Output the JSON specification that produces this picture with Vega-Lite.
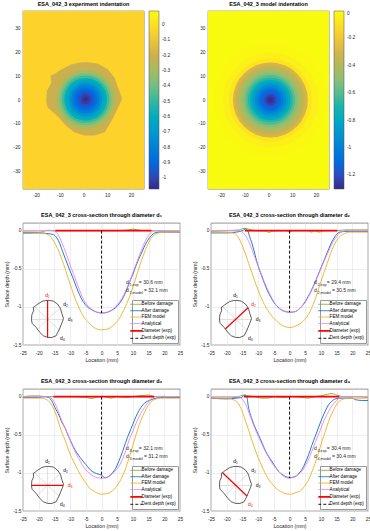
{
"$schema":"https://vega.github.io/schema/vega-lite/v6.json",
"padding":{"left":2,"top":1,"right":0,"bottom":0},
"background":"white",
"config":{
 "font":"Liberation Sans",
 "view":{"stroke":"#4d4d4d","strokeWidth":0.6},
 "title":{"fontSize":5.5,"fontWeight":"bold","color":"#000","offset":4},
 "axis":{"labelFontSize":4.8,"titleFontSize":5.2,"titleFontWeight":"normal","labelColor":"#262626","titleColor":"#262626","ticks":false,"domain":false,"labelPadding":2,"titlePadding":2,"gridColor":"#e3e3e3","gridWidth":0.6,"labelOverlap":false,"labelBound":false,"labelFlush":false,"tickCount":50}
},
"datasets":{
 "blob":[{"x":1.8,"y":15.9},{"x":6.1,"y":15.3},{"x":10.3,"y":12.8},{"x":13.2,"y":9.3},{"x":14.6,"y":5.1},{"x":16.2,"y":1.0},{"x":15.9,"y":-0.4},{"x":13.9,"y":-4.6},{"x":11.8,"y":-8.8},{"x":8.9,"y":-13.6},{"x":4.7,"y":-15},{"x":0.4,"y":-15},{"x":-3.9,"y":-13.6},{"x":-7.4,"y":-10.8},{"x":-11,"y":-6.7},{"x":-15.1,"y":-3.2},{"x":-15.7,"y":-0.4},{"x":-15.4,"y":3.8},{"x":-13.6,"y":7.2},{"x":-13.9,"y":10.2},{"x":-12.4,"y":10.8},{"x":-10.3,"y":12.3},{"x":-5.3,"y":15.0},{"x":-1.6,"y":15.8}],
 "hmE":[{"x":0.9,"y":0.3,"r":12.5,"v":-0.26},{"x":0.9,"y":0.3,"r":12,"v":-0.3},{"x":0.9,"y":0.3,"r":11,"v":-0.39},{"x":0.9,"y":0.3,"r":10,"v":-0.48},{"x":0.9,"y":0.3,"r":9,"v":-0.56},{"x":0.9,"y":0.3,"r":8,"v":-0.65},{"x":0.9,"y":0.3,"r":7,"v":-0.73},{"x":0.9,"y":0.3,"r":6,"v":-0.8},{"x":0.9,"y":0.3,"r":5,"v":-0.87},{"x":0.9,"y":0.3,"r":4,"v":-0.93},{"x":0.9,"y":0.3,"r":3,"v":-0.98},{"x":0.9,"y":0.3,"r":2,"v":-1.02},{"x":0.9,"y":0.3,"r":1,"v":-1.05},{"x":0.9,"y":0.3,"r":0.5,"v":-1.06}],
 "hmM":[{"x":0.8,"y":0,"r":24,"v":-0.015},{"x":0.8,"y":0,"r":20,"v":-0.04},{"x":0.8,"y":0,"r":17.5,"v":-0.08},{"x":0.8,"y":0,"r":15.8,"v":-0.3},{"x":0.8,"y":0,"r":14.5,"v":-0.34},{"x":0.8,"y":0,"r":13.5,"v":-0.39},{"x":0.8,"y":0,"r":12.5,"v":-0.45},{"x":0.8,"y":0,"r":11.5,"v":-0.52},{"x":0.8,"y":0,"r":10.5,"v":-0.6},{"x":0.8,"y":0,"r":9.5,"v":-0.68},{"x":0.8,"y":0,"r":8.5,"v":-0.77},{"x":0.8,"y":0,"r":7.5,"v":-0.86},{"x":0.8,"y":0,"r":6.5,"v":-0.94},{"x":0.8,"y":0,"r":5.5,"v":-1.02},{"x":0.8,"y":0,"r":4.5,"v":-1.09},{"x":0.8,"y":0,"r":3.5,"v":-1.16},{"x":0.8,"y":0,"r":2.5,"v":-1.22},{"x":0.8,"y":0,"r":1.5,"v":-1.27},{"x":0.8,"y":0,"r":0.7,"v":-1.295}],
 "dia":[{"d":"d1","x":0.4,"y":15.8},{"d":"d1","x":0.4,"y":-15},{"d":"d2","x":-9.9,"y":-8.0},{"d":"d2","x":12.85,"y":9.7},{"d":"d3","x":-15.7,"y":0},{"d":"d3","x":16.0,"y":0},{"d":"d4","x":-12.6,"y":10.6},{"d":"d4","x":11.8,"y":-8.8}],
 "dlab":[{"d":"d1","x":0.2,"y":20.4,"t":"d₁"},{"d":"d2","x":18.5,"y":12.9,"t":"d₂"},{"d":"d3","x":22.9,"y":0.5,"t":"d₃"},{"d":"d4","x":15.2,"y":-15.5,"t":"d₄"}],
 "ann":[
  {"p":1,"k":"m","x":7.8,"y":-0.68,"t":"d"},{"p":1,"k":"s","x":8.9,"y":-0.715,"t":"1,exp"},{"p":1,"k":"m","x":11.9,"y":-0.68,"t":"= 30.6 mm"},{"p":1,"k":"m","x":7.8,"y":-0.78,"t":"d"},{"p":1,"k":"s","x":8.9,"y":-0.815,"t":"1,model"},{"p":1,"k":"m","x":13.5,"y":-0.78,"t":"= 32.1 mm"},
  {"p":2,"k":"m","x":7.8,"y":-0.68,"t":"d"},{"p":2,"k":"s","x":8.9,"y":-0.715,"t":"2,exp"},{"p":2,"k":"m","x":11.9,"y":-0.68,"t":"= 29.4 mm"},{"p":2,"k":"m","x":7.8,"y":-0.78,"t":"d"},{"p":2,"k":"s","x":8.9,"y":-0.815,"t":"2,model"},{"p":2,"k":"m","x":13.5,"y":-0.78,"t":"= 30.5 mm"},
  {"p":3,"k":"m","x":7.8,"y":-0.68,"t":"d"},{"p":3,"k":"s","x":8.9,"y":-0.715,"t":"3,exp"},{"p":3,"k":"m","x":11.9,"y":-0.68,"t":"= 32.1 mm"},{"p":3,"k":"m","x":7.8,"y":-0.78,"t":"d"},{"p":3,"k":"s","x":8.9,"y":-0.815,"t":"3,model"},{"p":3,"k":"m","x":13.5,"y":-0.78,"t":"= 31.2 mm"},
  {"p":4,"k":"m","x":7.8,"y":-0.68,"t":"d"},{"p":4,"k":"s","x":8.9,"y":-0.715,"t":"4,exp"},{"p":4,"k":"m","x":11.9,"y":-0.68,"t":"= 30.4 mm"},{"p":4,"k":"m","x":7.8,"y":-0.78,"t":"d"},{"p":4,"k":"s","x":8.9,"y":-0.815,"t":"4,model"},{"p":4,"k":"m","x":13.5,"y":-0.78,"t":"= 30.4 mm"}
 ],
 "c1":[
  {"s":"B","x":-25,"y":-0.03},{"s":"B","x":-20,"y":-0.025},{"s":"B","x":-17,"y":0.005},{"s":"B","x":-15,"y":0},{"s":"B","x":-10,"y":0},{"s":"B","x":-5,"y":0},{"s":"B","x":0,"y":0},{"s":"B","x":5,"y":0},{"s":"B","x":8,"y":0.005},{"s":"B","x":10,"y":0.02},{"s":"B","x":12,"y":0.005},{"s":"B","x":15,"y":0},{"s":"B","x":20,"y":-0.005},{"s":"B","x":25,"y":-0.01},
  {"s":"A","x":-25,"y":-0.03},{"s":"A","x":-20,"y":-0.03},{"s":"A","x":-17,"y":-0.04},{"s":"A","x":-15.5,"y":-0.05},{"s":"A","x":-14.5,"y":-0.08},{"s":"A","x":-13.5,"y":-0.15},{"s":"A","x":-12.5,"y":-0.26},{"s":"A","x":-11.5,"y":-0.37},{"s":"A","x":-10.3,"y":-0.5},{"s":"A","x":-9,"y":-0.63},{"s":"A","x":-8,"y":-0.74},{"s":"A","x":-7,"y":-0.84},{"s":"A","x":-6,"y":-0.92},{"s":"A","x":-4.5,"y":-1.0},{"s":"A","x":-3,"y":-1.04},{"s":"A","x":-1.5,"y":-1.07},{"s":"A","x":0,"y":-1.08},{"s":"A","x":1.5,"y":-1.075},{"s":"A","x":3,"y":-1.05},{"s":"A","x":4.5,"y":-1.01},{"s":"A","x":6,"y":-0.94},{"s":"A","x":7,"y":-0.87},{"s":"A","x":8,"y":-0.78},{"s":"A","x":9,"y":-0.67},{"s":"A","x":10,"y":-0.57},{"s":"A","x":11,"y":-0.46},{"s":"A","x":12,"y":-0.36},{"s":"A","x":13,"y":-0.27},{"s":"A","x":14,"y":-0.18},{"s":"A","x":15,"y":-0.11},{"s":"A","x":16,"y":-0.06},{"s":"A","x":17,"y":-0.03},{"s":"A","x":18.5,"y":-0.02},{"s":"A","x":25,"y":-0.02},
  {"s":"F","x":-25,"y":-0.015},{"s":"F","x":-20,"y":-0.02},{"s":"F","x":-18.5,"y":-0.03},{"s":"F","x":-17.5,"y":-0.045},{"s":"F","x":-16.5,"y":-0.07},{"s":"F","x":-15.5,"y":-0.12},{"s":"F","x":-14.5,"y":-0.19},{"s":"F","x":-13.5,"y":-0.28},{"s":"F","x":-12.5,"y":-0.39},{"s":"F","x":-11.5,"y":-0.51},{"s":"F","x":-10.5,"y":-0.64},{"s":"F","x":-9.5,"y":-0.76},{"s":"F","x":-8.5,"y":-0.88},{"s":"F","x":-7.5,"y":-0.98},{"s":"F","x":-6.5,"y":-1.07},{"s":"F","x":-5.5,"y":-1.14},{"s":"F","x":-4,"y":-1.21},{"s":"F","x":-2,"y":-1.28},{"s":"F","x":0,"y":-1.3},{"s":"F","x":2,"y":-1.29},{"s":"F","x":3.5,"y":-1.25},{"s":"F","x":5,"y":-1.19},{"s":"F","x":6,"y":-1.13},{"s":"F","x":7,"y":-1.05},{"s":"F","x":8,"y":-0.96},{"s":"F","x":9,"y":-0.86},{"s":"F","x":10,"y":-0.74},{"s":"F","x":11,"y":-0.61},{"s":"F","x":12,"y":-0.48},{"s":"F","x":13,"y":-0.36},{"s":"F","x":14,"y":-0.25},{"s":"F","x":15,"y":-0.16},{"s":"F","x":16,"y":-0.09},{"s":"F","x":17,"y":-0.05},{"s":"F","x":18.5,"y":-0.03},{"s":"F","x":20,"y":-0.02},{"s":"F","x":25,"y":-0.015},
  {"s":"N","x":-25,"y":0},{"s":"N","x":-16,"y":0},{"s":"N","x":-15,"y":-0.01},{"s":"N","x":-14,"y":-0.04},{"s":"N","x":-13,"y":-0.12},{"s":"N","x":-12,"y":-0.22},{"s":"N","x":-11,"y":-0.33},{"s":"N","x":-10,"y":-0.45},{"s":"N","x":-9,"y":-0.56},{"s":"N","x":-8,"y":-0.67},{"s":"N","x":-7,"y":-0.78},{"s":"N","x":-6,"y":-0.88},{"s":"N","x":-5,"y":-0.95},{"s":"N","x":-4,"y":-1.0},{"s":"N","x":-2.5,"y":-1.05},{"s":"N","x":0,"y":-1.08},{"s":"N","x":2.5,"y":-1.06},{"s":"N","x":4,"y":-1.02},{"s":"N","x":5,"y":-0.97},{"s":"N","x":6,"y":-0.92},{"s":"N","x":7,"y":-0.85},{"s":"N","x":8,"y":-0.76},{"s":"N","x":9,"y":-0.66},{"s":"N","x":10,"y":-0.55},{"s":"N","x":11,"y":-0.44},{"s":"N","x":12,"y":-0.33},{"s":"N","x":13,"y":-0.23},{"s":"N","x":14,"y":-0.13},{"s":"N","x":15,"y":-0.06},{"s":"N","x":16,"y":-0.02},{"s":"N","x":17,"y":0},{"s":"N","x":25,"y":0},
  {"s":"D","x":-14.7,"y":0},{"s":"D","x":15.9,"y":0},
  {"s":"K","x":0,"y":0},{"s":"K","x":0,"y":-1.08}
 ],
 "c2":[
  {"s":"B","x":-25,"y":-0.01},{"s":"B","x":-20,"y":0},{"s":"B","x":-16,"y":0.01},{"s":"B","x":-14.5,"y":0.03},{"s":"B","x":-13,"y":0.02},{"s":"B","x":-11,"y":0},{"s":"B","x":-7.5,"y":-0.005},{"s":"B","x":-6.5,"y":-0.025},{"s":"B","x":-5.5,"y":-0.005},{"s":"B","x":-1,"y":0},{"s":"B","x":0,"y":-0.02},{"s":"B","x":1,"y":0},{"s":"B","x":6,"y":0},{"s":"B","x":7,"y":-0.02},{"s":"B","x":8,"y":0},{"s":"B","x":9.5,"y":-0.02},{"s":"B","x":11,"y":0},{"s":"B","x":15,"y":0},{"s":"B","x":18,"y":0.01},{"s":"B","x":25,"y":0.01},
  {"s":"A","x":-25,"y":-0.03},{"s":"A","x":-20,"y":-0.03},{"s":"A","x":-17,"y":-0.02},{"s":"A","x":-15,"y":0},{"s":"A","x":-14,"y":0.02},{"s":"A","x":-13.3,"y":0},{"s":"A","x":-12.7,"y":-0.08},{"s":"A","x":-12,"y":-0.16},{"s":"A","x":-11.2,"y":-0.28},{"s":"A","x":-10.1,"y":-0.45},{"s":"A","x":-9,"y":-0.58},{"s":"A","x":-8,"y":-0.69},{"s":"A","x":-7,"y":-0.79},{"s":"A","x":-6,"y":-0.87},{"s":"A","x":-5,"y":-0.94},{"s":"A","x":-4,"y":-0.99},{"s":"A","x":-2.5,"y":-1.04},{"s":"A","x":-1,"y":-1.065},{"s":"A","x":0.5,"y":-1.07},{"s":"A","x":2,"y":-1.06},{"s":"A","x":3,"y":-1.03},{"s":"A","x":4,"y":-0.99},{"s":"A","x":5,"y":-0.93},{"s":"A","x":6,"y":-0.86},{"s":"A","x":7,"y":-0.78},{"s":"A","x":8,"y":-0.69},{"s":"A","x":9,"y":-0.59},{"s":"A","x":10,"y":-0.49},{"s":"A","x":11,"y":-0.39},{"s":"A","x":12,"y":-0.29},{"s":"A","x":13,"y":-0.19},{"s":"A","x":14,"y":-0.11},{"s":"A","x":15,"y":-0.05},{"s":"A","x":16,"y":-0.02},{"s":"A","x":18,"y":-0.01},{"s":"A","x":25,"y":-0.01},
  {"s":"F","x":-25,"y":-0.02},{"s":"F","x":-21,"y":-0.02},{"s":"F","x":-18,"y":-0.03},{"s":"F","x":-17,"y":-0.05},{"s":"F","x":-16,"y":-0.11},{"s":"F","x":-15,"y":-0.2},{"s":"F","x":-14,"y":-0.31},{"s":"F","x":-13,"y":-0.43},{"s":"F","x":-12,"y":-0.55},{"s":"F","x":-11,"y":-0.67},{"s":"F","x":-10,"y":-0.78},{"s":"F","x":-9,"y":-0.88},{"s":"F","x":-8,"y":-0.97},{"s":"F","x":-7,"y":-1.04},{"s":"F","x":-6,"y":-1.1},{"s":"F","x":-5,"y":-1.15},{"s":"F","x":-4,"y":-1.19},{"s":"F","x":-2,"y":-1.25},{"s":"F","x":0,"y":-1.27},{"s":"F","x":2,"y":-1.25},{"s":"F","x":4,"y":-1.2},{"s":"F","x":5,"y":-1.16},{"s":"F","x":6,"y":-1.1},{"s":"F","x":7,"y":-1.02},{"s":"F","x":8,"y":-0.92},{"s":"F","x":9,"y":-0.8},{"s":"F","x":10,"y":-0.67},{"s":"F","x":11,"y":-0.55},{"s":"F","x":12,"y":-0.43},{"s":"F","x":13,"y":-0.31},{"s":"F","x":14,"y":-0.21},{"s":"F","x":15,"y":-0.13},{"s":"F","x":16,"y":-0.08},{"s":"F","x":17,"y":-0.05},{"s":"F","x":19,"y":-0.02},{"s":"F","x":25,"y":-0.02},
  {"s":"N","x":-25,"y":0},{"s":"N","x":-16,"y":0},{"s":"N","x":-15.4,"y":-0.01},{"s":"N","x":-14.5,"y":-0.04},{"s":"N","x":-13.5,"y":-0.1},{"s":"N","x":-12.5,"y":-0.19},{"s":"N","x":-11.5,"y":-0.3},{"s":"N","x":-10.5,"y":-0.41},{"s":"N","x":-9.5,"y":-0.51},{"s":"N","x":-8.5,"y":-0.62},{"s":"N","x":-7.5,"y":-0.72},{"s":"N","x":-6.5,"y":-0.81},{"s":"N","x":-5,"y":-0.93},{"s":"N","x":-4,"y":-0.99},{"s":"N","x":-2.5,"y":-1.045},{"s":"N","x":0,"y":-1.07},{"s":"N","x":2,"y":-1.06},{"s":"N","x":3,"y":-1.03},{"s":"N","x":4,"y":-0.99},{"s":"N","x":5,"y":-0.94},{"s":"N","x":6,"y":-0.87},{"s":"N","x":7,"y":-0.79},{"s":"N","x":8,"y":-0.7},{"s":"N","x":9,"y":-0.6},{"s":"N","x":10,"y":-0.5},{"s":"N","x":11,"y":-0.4},{"s":"N","x":12,"y":-0.31},{"s":"N","x":13,"y":-0.22},{"s":"N","x":14,"y":-0.14},{"s":"N","x":15,"y":-0.08},{"s":"N","x":16,"y":-0.03},{"s":"N","x":17,"y":-0.01},{"s":"N","x":18,"y":0},{"s":"N","x":25,"y":0},
  {"s":"D","x":-14.2,"y":0},{"s":"D","x":15.2,"y":0},
  {"s":"K","x":0,"y":0},{"s":"K","x":0,"y":-1.07}
 ],
 "c3":[
  {"s":"B","x":-25,"y":0},{"s":"B","x":-22,"y":0.01},{"s":"B","x":-20,"y":0.01},{"s":"B","x":-18,"y":0},{"s":"B","x":-10,"y":0},{"s":"B","x":-5,"y":-0.01},{"s":"B","x":-3,"y":-0.025},{"s":"B","x":-1,"y":0},{"s":"B","x":1,"y":0},{"s":"B","x":3,"y":-0.02},{"s":"B","x":5,"y":0},{"s":"B","x":8,"y":-0.01},{"s":"B","x":10,"y":0},{"s":"B","x":13,"y":0.015},{"s":"B","x":15,"y":0.02},{"s":"B","x":17,"y":0},{"s":"B","x":20,"y":0.005},{"s":"B","x":22,"y":-0.01},{"s":"B","x":25,"y":0},
  {"s":"A","x":-25,"y":-0.01},{"s":"A","x":-20,"y":-0.01},{"s":"A","x":-18,"y":0},{"s":"A","x":-16.5,"y":-0.02},{"s":"A","x":-15.9,"y":-0.05},{"s":"A","x":-15.2,"y":-0.11},{"s":"A","x":-14.5,"y":-0.17},{"s":"A","x":-13.8,"y":-0.22},{"s":"A","x":-12.7,"y":-0.33},{"s":"A","x":-11.5,"y":-0.42},{"s":"A","x":-10.5,"y":-0.52},{"s":"A","x":-9.5,"y":-0.61},{"s":"A","x":-8.4,"y":-0.7},{"s":"A","x":-7.3,"y":-0.77},{"s":"A","x":-6.2,"y":-0.83},{"s":"A","x":-5,"y":-0.89},{"s":"A","x":-4,"y":-0.94},{"s":"A","x":-3,"y":-0.98},{"s":"A","x":-1.5,"y":-1.01},{"s":"A","x":0,"y":-1.03},{"s":"A","x":1.2,"y":-1.065},{"s":"A","x":2.2,"y":-1.05},{"s":"A","x":3.5,"y":-1.0},{"s":"A","x":4.5,"y":-0.94},{"s":"A","x":5.5,"y":-0.85},{"s":"A","x":6.7,"y":-0.72},{"s":"A","x":7.7,"y":-0.6},{"s":"A","x":8.8,"y":-0.48},{"s":"A","x":10,"y":-0.36},{"s":"A","x":11,"y":-0.26},{"s":"A","x":12,"y":-0.18},{"s":"A","x":13.1,"y":-0.11},{"s":"A","x":14.2,"y":-0.07},{"s":"A","x":15.3,"y":-0.05},{"s":"A","x":17.4,"y":-0.02},{"s":"A","x":20,"y":-0.01},{"s":"A","x":25,"y":-0.01},
  {"s":"F","x":-25,"y":-0.02},{"s":"F","x":-19,"y":-0.02},{"s":"F","x":-18,"y":-0.03},{"s":"F","x":-17,"y":-0.05},{"s":"F","x":-16,"y":-0.1},{"s":"F","x":-14.8,"y":-0.2},{"s":"F","x":-13.8,"y":-0.32},{"s":"F","x":-12.7,"y":-0.46},{"s":"F","x":-11.5,"y":-0.58},{"s":"F","x":-10.5,"y":-0.7},{"s":"F","x":-9.5,"y":-0.8},{"s":"F","x":-8.4,"y":-0.89},{"s":"F","x":-7.3,"y":-0.98},{"s":"F","x":-6.2,"y":-1.06},{"s":"F","x":-5,"y":-1.13},{"s":"F","x":-4,"y":-1.19},{"s":"F","x":-2,"y":-1.25},{"s":"F","x":0,"y":-1.28},{"s":"F","x":2,"y":-1.27},{"s":"F","x":3.4,"y":-1.24},{"s":"F","x":4.5,"y":-1.19},{"s":"F","x":5.6,"y":-1.13},{"s":"F","x":6.7,"y":-1.04},{"s":"F","x":7.7,"y":-0.94},{"s":"F","x":8.8,"y":-0.8},{"s":"F","x":9.9,"y":-0.65},{"s":"F","x":11,"y":-0.5},{"s":"F","x":12,"y":-0.37},{"s":"F","x":13.1,"y":-0.26},{"s":"F","x":14.2,"y":-0.16},{"s":"F","x":15.3,"y":-0.09},{"s":"F","x":16.3,"y":-0.05},{"s":"F","x":17.5,"y":-0.03},{"s":"F","x":18.5,"y":-0.02},{"s":"F","x":25,"y":-0.02},
  {"s":"N","x":-25,"y":0},{"s":"N","x":-17,"y":0},{"s":"N","x":-16.5,"y":-0.01},{"s":"N","x":-15.5,"y":-0.04},{"s":"N","x":-14.8,"y":-0.09},{"s":"N","x":-13.7,"y":-0.2},{"s":"N","x":-12.7,"y":-0.31},{"s":"N","x":-11.5,"y":-0.42},{"s":"N","x":-10.5,"y":-0.52},{"s":"N","x":-9.5,"y":-0.62},{"s":"N","x":-8.4,"y":-0.72},{"s":"N","x":-7.3,"y":-0.81},{"s":"N","x":-6.2,"y":-0.89},{"s":"N","x":-5.2,"y":-0.95},{"s":"N","x":-4,"y":-1.0},{"s":"N","x":-2.5,"y":-1.045},{"s":"N","x":0,"y":-1.07},{"s":"N","x":2,"y":-1.055},{"s":"N","x":3,"y":-1.03},{"s":"N","x":4,"y":-0.99},{"s":"N","x":5.6,"y":-0.91},{"s":"N","x":6.7,"y":-0.82},{"s":"N","x":7.7,"y":-0.71},{"s":"N","x":8.8,"y":-0.57},{"s":"N","x":10,"y":-0.45},{"s":"N","x":11,"y":-0.35},{"s":"N","x":12,"y":-0.26},{"s":"N","x":13.1,"y":-0.18},{"s":"N","x":14.2,"y":-0.11},{"s":"N","x":15.3,"y":-0.05},{"s":"N","x":16.2,"y":-0.02},{"s":"N","x":17,"y":0},{"s":"N","x":25,"y":0},
  {"s":"D","x":-15.3,"y":0},{"s":"D","x":16.8,"y":0},
  {"s":"K","x":0,"y":0},{"s":"K","x":0,"y":-1.07}
 ],
 "c4":[
  {"s":"B","x":-25,"y":-0.02},{"s":"B","x":-20,"y":-0.02},{"s":"B","x":-17,"y":-0.01},{"s":"B","x":-14.5,"y":0.02},{"s":"B","x":-13,"y":0.01},{"s":"B","x":-11,"y":0},{"s":"B","x":-9,"y":-0.02},{"s":"B","x":-7,"y":-0.02},{"s":"B","x":-5,"y":0},{"s":"B","x":-2,"y":-0.01},{"s":"B","x":1,"y":0},{"s":"B","x":4,"y":-0.01},{"s":"B","x":6,"y":-0.02},{"s":"B","x":8,"y":0},{"s":"B","x":10,"y":0.01},{"s":"B","x":12,"y":0.03},{"s":"B","x":13.5,"y":0.04},{"s":"B","x":15,"y":0.02},{"s":"B","x":17,"y":0},{"s":"B","x":20,"y":0},{"s":"B","x":25,"y":-0.01},
  {"s":"A","x":-25,"y":-0.02},{"s":"A","x":-20,"y":-0.03},{"s":"A","x":-17,"y":-0.02},{"s":"A","x":-15.2,"y":-0.01},{"s":"A","x":-14.3,"y":0.02},{"s":"A","x":-13.6,"y":0},{"s":"A","x":-13.1,"y":-0.13},{"s":"A","x":-12,"y":-0.29},{"s":"A","x":-11,"y":-0.4},{"s":"A","x":-9.9,"y":-0.5},{"s":"A","x":-8.8,"y":-0.6},{"s":"A","x":-7.8,"y":-0.7},{"s":"A","x":-6.7,"y":-0.78},{"s":"A","x":-5.6,"y":-0.85},{"s":"A","x":-4.5,"y":-0.92},{"s":"A","x":-3.5,"y":-0.98},{"s":"A","x":-2,"y":-1.03},{"s":"A","x":0,"y":-1.06},{"s":"A","x":1.8,"y":-1.05},{"s":"A","x":2.9,"y":-1.01},{"s":"A","x":3.9,"y":-0.96},{"s":"A","x":5,"y":-0.87},{"s":"A","x":6.1,"y":-0.76},{"s":"A","x":7.1,"y":-0.64},{"s":"A","x":8.2,"y":-0.52},{"s":"A","x":9.3,"y":-0.4},{"s":"A","x":10.3,"y":-0.29},{"s":"A","x":11.4,"y":-0.19},{"s":"A","x":12.4,"y":-0.11},{"s":"A","x":13.5,"y":-0.06},{"s":"A","x":14.6,"y":-0.03},{"s":"A","x":17,"y":-0.02},{"s":"A","x":20,"y":-0.02},{"s":"A","x":21,"y":-0.04},{"s":"A","x":23,"y":-0.05},{"s":"A","x":25,"y":-0.05},
  {"s":"F","x":-25,"y":-0.02},{"s":"F","x":-19.5,"y":-0.02},{"s":"F","x":-18,"y":-0.04},{"s":"F","x":-17,"y":-0.06},{"s":"F","x":-16.3,"y":-0.09},{"s":"F","x":-15.2,"y":-0.18},{"s":"F","x":-14.1,"y":-0.31},{"s":"F","x":-13,"y":-0.44},{"s":"F","x":-12,"y":-0.57},{"s":"F","x":-11,"y":-0.69},{"s":"F","x":-9.9,"y":-0.81},{"s":"F","x":-8.8,"y":-0.91},{"s":"F","x":-7.8,"y":-1.0},{"s":"F","x":-6.7,"y":-1.08},{"s":"F","x":-5.6,"y":-1.14},{"s":"F","x":-4.6,"y":-1.19},{"s":"F","x":-3,"y":-1.24},{"s":"F","x":0,"y":-1.28},{"s":"F","x":2,"y":-1.26},{"s":"F","x":3.9,"y":-1.22},{"s":"F","x":5,"y":-1.16},{"s":"F","x":6.1,"y":-1.09},{"s":"F","x":7.1,"y":-0.99},{"s":"F","x":8.2,"y":-0.87},{"s":"F","x":9.3,"y":-0.73},{"s":"F","x":10.3,"y":-0.59},{"s":"F","x":11.4,"y":-0.46},{"s":"F","x":12.4,"y":-0.33},{"s":"F","x":13.5,"y":-0.22},{"s":"F","x":14.6,"y":-0.13},{"s":"F","x":15.6,"y":-0.07},{"s":"F","x":16.7,"y":-0.04},{"s":"F","x":18.8,"y":-0.02},{"s":"F","x":25,"y":-0.02},
  {"s":"N","x":-25,"y":0},{"s":"N","x":-16.3,"y":0},{"s":"N","x":-15.2,"y":-0.03},{"s":"N","x":-14.1,"y":-0.09},{"s":"N","x":-13,"y":-0.2},{"s":"N","x":-12,"y":-0.31},{"s":"N","x":-11,"y":-0.42},{"s":"N","x":-9.9,"y":-0.52},{"s":"N","x":-8.8,"y":-0.62},{"s":"N","x":-7.8,"y":-0.71},{"s":"N","x":-6.7,"y":-0.79},{"s":"N","x":-5.6,"y":-0.87},{"s":"N","x":-4.5,"y":-0.93},{"s":"N","x":-3.5,"y":-0.98},{"s":"N","x":-2,"y":-1.04},{"s":"N","x":0,"y":-1.07},{"s":"N","x":2,"y":-1.04},{"s":"N","x":3.9,"y":-0.98},{"s":"N","x":5,"y":-0.91},{"s":"N","x":6.1,"y":-0.82},{"s":"N","x":7.1,"y":-0.72},{"s":"N","x":8.2,"y":-0.6},{"s":"N","x":9.8,"y":-0.44},{"s":"N","x":11,"y":-0.31},{"s":"N","x":12.4,"y":-0.2},{"s":"N","x":13.5,"y":-0.12},{"s":"N","x":14.6,"y":-0.07},{"s":"N","x":15.5,"y":-0.03},{"s":"N","x":16.2,"y":-0.01},{"s":"N","x":17,"y":0},{"s":"N","x":25,"y":0},
  {"s":"D","x":-14.5,"y":0},{"s":"D","x":15.9,"y":0},
  {"s":"K","x":0,"y":0},{"s":"K","x":0,"y":-1.07}
 ]
},
"vconcat":[
 {"hconcat":[
  {"width":121,"height":178,"title":"ESA_042_3 experiment indentation",
   "layer":[
    {"data":{"values":[{"x":-25.5,"x2":25.5,"y":-37.5,"y2":37.5,"v":-0.04}]},
     "mark":{"type":"rect"},
     "encoding":{
      "x":{"field":"x","type":"quantitative","scale":{"domain":[-25.5,25.5],"nice":false,"zero":false},"axis":{"values":[-20,-10,0,10,20],"tickCount":50,"title":null,"labelExpr":"datum.value+''","labelPadding":3,"labelOverlap":false}},
      "x2":{"field":"x2"},
      "y":{"field":"y","type":"quantitative","scale":{"domain":[-37.5,37.5],"nice":false,"zero":false},"axis":{"values":[-30,-20,-10,0,10,20,30],"tickCount":50,"title":null,"labelExpr":"datum.value+''","labelPadding":3,"minExtent":20,"maxExtent":20,"labelOverlap":false}},
      "y2":{"field":"y2"},
      "color":{"field":"v","type":"quantitative","scale":{"domain":[-1.07,-0.925,-0.78,-0.635,-0.49,-0.345,-0.2,-0.055,0.09],"range":["#352a87","#0363e1","#1485d4","#06a7c6","#38b99e","#92bf73","#ccb04e","#fcce2e","#f9fb0e"]},
       "legend":{"title":null,"orient":"right","offset":5,"gradientLength":178,"gradientThickness":10,"values":[0,-0.1,-0.2,-0.3,-0.4,-0.5,-0.6,-0.7,-0.8,-0.9,-1],"labelFontSize":4.8,"labelColor":"#262626","labelExpr":"datum.value+''","gradientStrokeColor":"#4d4d4d","gradientStrokeWidth":0.5,"labelOffset":3,"labelOverlap":false,"direction":"vertical"}}
     }},
    {"data":{"name":"blob"},"mark":{"type":"line","filled":true,"interpolate":"linear-closed","strokeWidth":0},
     "encoding":{"x":{"field":"x","type":"quantitative"},"y":{"field":"y","type":"quantitative"},
      "color":{"datum":-0.2,"type":"quantitative","scale":{"domain":[-1.07,-0.925,-0.78,-0.635,-0.49,-0.345,-0.2,-0.055,0.09],"range":["#352a87","#0363e1","#1485d4","#06a7c6","#38b99e","#92bf73","#ccb04e","#fcce2e","#f9fb0e"]}},
      "order":{"value":null}}},
    {"data":{"name":"hmE"},"mark":{"type":"point","shape":"circle","filled":true,"opacity":1,"strokeWidth":0,"clip":true},
     "encoding":{"x":{"field":"x","type":"quantitative"},"y":{"field":"y","type":"quantitative"},
      "size":{"field":"r","type":"quantitative","scale":{"type":"pow","exponent":2,"domain":[0,25],"range":[0,14070]},"legend":null},
      "color":{"field":"v","type":"quantitative","scale":{"domain":[-1.07,-0.925,-0.78,-0.635,-0.49,-0.345,-0.2,-0.055,0.09],"range":["#352a87","#0363e1","#1485d4","#06a7c6","#38b99e","#92bf73","#ccb04e","#fcce2e","#f9fb0e"]}}}}
   ]},
  {"width":121,"height":178,"title":"ESA_042_3 model indentation",
   "layer":[
    {"data":{"values":[{"x":-25.5,"x2":25.5,"y":-37.5,"y2":37.5,"v":0}]},
     "mark":{"type":"rect"},
     "encoding":{
      "x":{"field":"x","type":"quantitative","scale":{"domain":[-25.5,25.5],"nice":false,"zero":false},"axis":{"values":[-20,-10,0,10,20],"tickCount":50,"title":null,"labelExpr":"datum.value+''","labelPadding":3,"labelOverlap":false}},
      "x2":{"field":"x2"},
      "y":{"field":"y","type":"quantitative","scale":{"domain":[-37.5,37.5],"nice":false,"zero":false},"axis":{"values":[-30,-20,-10,0,10,20,30],"tickCount":50,"title":null,"labelExpr":"datum.value+''","labelPadding":3,"minExtent":20,"maxExtent":20,"labelOverlap":false}},
      "y2":{"field":"y2"},
      "color":{"field":"v","type":"quantitative","scale":{"domain":[-1.3,-1.1375,-0.975,-0.8125,-0.65,-0.4875,-0.325,-0.1625,0],"range":["#352a87","#0363e1","#1485d4","#06a7c6","#38b99e","#92bf73","#ccb04e","#fcce2e","#f9fb0e"]},
       "legend":{"title":null,"orient":"right","offset":5,"gradientLength":178,"gradientThickness":10,"values":[0,-0.2,-0.4,-0.6,-0.8,-1,-1.2],"labelFontSize":4.8,"labelColor":"#262626","labelExpr":"datum.value+''","gradientStrokeColor":"#4d4d4d","gradientStrokeWidth":0.5,"labelOffset":3,"labelOverlap":false,"direction":"vertical"}}
     }},
    {"data":{"name":"hmM"},"mark":{"type":"point","shape":"circle","filled":true,"opacity":1,"strokeWidth":0,"clip":true},
     "encoding":{"x":{"field":"x","type":"quantitative"},"y":{"field":"y","type":"quantitative"},
      "size":{"field":"r","type":"quantitative","scale":{"type":"pow","exponent":2,"domain":[0,25],"range":[0,14070]},"legend":null},
      "color":{"field":"v","type":"quantitative","scale":{"domain":[-1.3,-1.1375,-0.975,-0.8125,-0.65,-0.4875,-0.325,-0.1625,0],"range":["#352a87","#0363e1","#1485d4","#06a7c6","#38b99e","#92bf73","#ccb04e","#fcce2e","#f9fb0e"]}}}}
   ]}
 ],"spacing":15,"resolve":{"scale":{"color":"independent","size":"independent"}}},
 {"hconcat":[
  {"width":157,"height":122,"title":{"text":"ESA_042_3 cross-section through diameter d₁","offset":5},
   "layer":[
    {"layer":[
     {"data":{"name":"c1"},"transform":[{"filter":"datum.s!='D'&&datum.s!='K'"}],"mark":{"type":"line","interpolate":"monotone","strokeWidth":0.9},
      "encoding":{
       "x":{"field":"x","type":"quantitative","scale":{"domain":[-25,25],"nice":false,"zero":false},"axis":{"values":[-25,-20,-15,-10,-5,0,5,10,15,20,25],"tickCount":50,"title":"Location (mm)","labelExpr":"datum.value+''","grid":true,"labelPadding":5,"titlePadding":3,"labelOverlap":false}},
       "y":{"field":"y","type":"quantitative","scale":{"domain":[-1.5,0.1],"nice":false,"zero":false},"axis":{"values":[0,-0.5,-1,-1.5],"tickCount":50,"title":"Surface depth (mm)","labelExpr":"datum.value+''","grid":true,"minExtent":12,"maxExtent":12,"labelOverlap":false}},
       "color":{"field":"s","type":"nominal","scale":{"domain":["B","A","F","N","D","K"],"range":["#77ac30","#0072bd","#edb120","#f080f0","#ff0000","#000000"]},
        "legend":{"title":null,"orient":"bottom-right","offset":2,"padding":2,"fillColor":"#ffffff","strokeColor":"#9a9a9a","labelFontSize":4.6,"labelColor":"#000","symbolType":"stroke","symbolSize":144,"symbolStrokeWidth":0.9,"rowPadding":0.4,"labelOffset":3,
         "labelExpr":"datum.label=='B'?'Before damage':datum.label=='A'?'After damage':datum.label=='F'?'FEM model':datum.label=='N'?'Analytical':datum.label=='D'?'Diameter (exp)':'Dent depth (exp)'",
         "encode":{"symbols":{"update":{"strokeWidth":{"signal":"datum.value=='D'?1.8:0.9"},"strokeDash":{"signal":"datum.value=='K'?[3,2]:[1,0]"}}}}}}
      }},
     {"data":{"name":"c1"},"transform":[{"filter":"datum.s=='D'||datum.s=='K'"}],"mark":{"type":"line"},
      "encoding":{"x":{"field":"x","type":"quantitative"},"y":{"field":"y","type":"quantitative"},
       "color":{"field":"s","type":"nominal","scale":{"domain":["B","A","F","N","D","K"],"range":["#77ac30","#0072bd","#edb120","#f080f0","#ff0000","#000000"]}},
       "strokeDash":{"field":"s","type":"nominal","scale":{"domain":["D","K"],"range":[[1,0],[3,2]]},"legend":null},
       "strokeWidth":{"condition":{"test":"datum.s=='D'","value":1.8},"value":0.9},
       "order":{"value":null}}},
     {"data":{"name":"ann"},"transform":[{"filter":"datum.p==1&&datum.k=='m'"}],"mark":{"type":"text","align":"left","baseline":"middle","fontSize":5,"color":"#262626"},
      "encoding":{"x":{"field":"x","type":"quantitative"},"y":{"field":"y","type":"quantitative"},"text":{"field":"t"}}},
     {"data":{"name":"ann"},"transform":[{"filter":"datum.p==1&&datum.k=='s'"}],"mark":{"type":"text","align":"left","baseline":"middle","fontSize":3.8,"color":"#262626"},
      "encoding":{"x":{"field":"x","type":"quantitative"},"y":{"field":"y","type":"quantitative"},"text":{"field":"t"}}}
    ]},
    {"layer":[
     {"data":{"name":"dia"},"mark":{"type":"line","color":"#c8c8c8","strokeWidth":0.6},
      "encoding":{"x":{"field":"x","type":"quantitative","scale":{"domain":[-24.2,132.8],"nice":false,"zero":false},"axis":null},"y":{"field":"y","type":"quantitative","scale":{"domain":[-21.3,80.4],"nice":false,"zero":false},"axis":null},"detail":{"field":"d","type":"nominal"},"order":{"value":null}}},
     {"data":{"name":"blob"},"mark":{"type":"line","interpolate":"linear-closed","color":"#1a1a1a","strokeWidth":0.7},
      "encoding":{"x":{"field":"x","type":"quantitative"},"y":{"field":"y","type":"quantitative"},"order":{"value":null}}},
     {"data":{"name":"dia"},"transform":[{"filter":"datum.d=='d1'"}],"mark":{"type":"line","color":"#ff0000","strokeWidth":1.2},
      "encoding":{"x":{"field":"x","type":"quantitative"},"y":{"field":"y","type":"quantitative"},"order":{"value":null}}},
     {"data":{"name":"dlab"},"mark":{"type":"text","fontSize":5,"align":"center","baseline":"middle"},
      "encoding":{"x":{"field":"x","type":"quantitative"},"y":{"field":"y","type":"quantitative"},"text":{"field":"t"},"color":{"condition":{"test":"datum.d=='d1'","value":"#ff0000"},"value":"#000000"}}}
    ]}
   ],
   "resolve":{"scale":{"x":"independent","y":"independent"}}},
  {"width":157,"height":122,"title":{"text":"ESA_042_3 cross-section through diameter d₂","offset":5},
   "layer":[
    {"layer":[
     {"data":{"name":"c2"},"transform":[{"filter":"datum.s!='D'&&datum.s!='K'"}],"mark":{"type":"line","interpolate":"monotone","strokeWidth":0.9},
      "encoding":{
       "x":{"field":"x","type":"quantitative","scale":{"domain":[-25,25],"nice":false,"zero":false},"axis":{"values":[-25,-20,-15,-10,-5,0,5,10,15,20,25],"tickCount":50,"title":"Location (mm)","labelExpr":"datum.value+''","grid":true,"labelPadding":5,"titlePadding":3,"labelOverlap":false}},
       "y":{"field":"y","type":"quantitative","scale":{"domain":[-1.5,0.1],"nice":false,"zero":false},"axis":{"values":[0,-0.5,-1,-1.5],"tickCount":50,"title":"Surface depth (mm)","labelExpr":"datum.value+''","grid":true,"minExtent":12,"maxExtent":12,"labelOverlap":false}},
       "color":{"field":"s","type":"nominal","scale":{"domain":["B","A","F","N","D","K"],"range":["#77ac30","#0072bd","#edb120","#f080f0","#ff0000","#000000"]},
        "legend":{"title":null,"orient":"bottom-right","offset":2,"padding":2,"fillColor":"#ffffff","strokeColor":"#9a9a9a","labelFontSize":4.6,"labelColor":"#000","symbolType":"stroke","symbolSize":144,"symbolStrokeWidth":0.9,"rowPadding":0.4,"labelOffset":3,
         "labelExpr":"datum.label=='B'?'Before damage':datum.label=='A'?'After damage':datum.label=='F'?'FEM model':datum.label=='N'?'Analytical':datum.label=='D'?'Diameter (exp)':'Dent depth (exp)'",
         "encode":{"symbols":{"update":{"strokeWidth":{"signal":"datum.value=='D'?1.8:0.9"},"strokeDash":{"signal":"datum.value=='K'?[3,2]:[1,0]"}}}}}}
      }},
     {"data":{"name":"c2"},"transform":[{"filter":"datum.s=='D'||datum.s=='K'"}],"mark":{"type":"line"},
      "encoding":{"x":{"field":"x","type":"quantitative"},"y":{"field":"y","type":"quantitative"},
       "color":{"field":"s","type":"nominal","scale":{"domain":["B","A","F","N","D","K"],"range":["#77ac30","#0072bd","#edb120","#f080f0","#ff0000","#000000"]}},
       "strokeDash":{"field":"s","type":"nominal","scale":{"domain":["D","K"],"range":[[1,0],[3,2]]},"legend":null},
       "strokeWidth":{"condition":{"test":"datum.s=='D'","value":1.8},"value":0.9},
       "order":{"value":null}}},
     {"data":{"name":"ann"},"transform":[{"filter":"datum.p==2&&datum.k=='m'"}],"mark":{"type":"text","align":"left","baseline":"middle","fontSize":5,"color":"#262626"},
      "encoding":{"x":{"field":"x","type":"quantitative"},"y":{"field":"y","type":"quantitative"},"text":{"field":"t"}}},
     {"data":{"name":"ann"},"transform":[{"filter":"datum.p==2&&datum.k=='s'"}],"mark":{"type":"text","align":"left","baseline":"middle","fontSize":3.8,"color":"#262626"},
      "encoding":{"x":{"field":"x","type":"quantitative"},"y":{"field":"y","type":"quantitative"},"text":{"field":"t"}}}
    ]},
    {"layer":[
     {"data":{"name":"dia"},"mark":{"type":"line","color":"#c8c8c8","strokeWidth":0.6},
      "encoding":{"x":{"field":"x","type":"quantitative","scale":{"domain":[-24.2,132.8],"nice":false,"zero":false},"axis":null},"y":{"field":"y","type":"quantitative","scale":{"domain":[-21.3,80.4],"nice":false,"zero":false},"axis":null},"detail":{"field":"d","type":"nominal"},"order":{"value":null}}},
     {"data":{"name":"blob"},"mark":{"type":"line","interpolate":"linear-closed","color":"#1a1a1a","strokeWidth":0.7},
      "encoding":{"x":{"field":"x","type":"quantitative"},"y":{"field":"y","type":"quantitative"},"order":{"value":null}}},
     {"data":{"name":"dia"},"transform":[{"filter":"datum.d=='d2'"}],"mark":{"type":"line","color":"#ff0000","strokeWidth":1.2},
      "encoding":{"x":{"field":"x","type":"quantitative"},"y":{"field":"y","type":"quantitative"},"order":{"value":null}}},
     {"data":{"name":"dlab"},"mark":{"type":"text","fontSize":5,"align":"center","baseline":"middle"},
      "encoding":{"x":{"field":"x","type":"quantitative"},"y":{"field":"y","type":"quantitative"},"text":{"field":"t"},"color":{"condition":{"test":"datum.d=='d2'","value":"#ff0000"},"value":"#000000"}}}
    ]}
   ],
   "resolve":{"scale":{"x":"independent","y":"independent"}}}
 ],"spacing":8,"resolve":{"scale":{"color":"independent","strokeDash":"independent"}}},
 {"hconcat":[
  {"width":157,"height":122,"title":{"text":"ESA_042_3 cross-section through diameter d₃","offset":5},
   "layer":[
    {"layer":[
     {"data":{"name":"c3"},"transform":[{"filter":"datum.s!='D'&&datum.s!='K'"}],"mark":{"type":"line","interpolate":"monotone","strokeWidth":0.9},
      "encoding":{
       "x":{"field":"x","type":"quantitative","scale":{"domain":[-25,25],"nice":false,"zero":false},"axis":{"values":[-25,-20,-15,-10,-5,0,5,10,15,20,25],"tickCount":50,"title":"Location (mm)","labelExpr":"datum.value+''","grid":true,"labelPadding":5,"titlePadding":3,"labelOverlap":false}},
       "y":{"field":"y","type":"quantitative","scale":{"domain":[-1.5,0.1],"nice":false,"zero":false},"axis":{"values":[0,-0.5,-1,-1.5],"tickCount":50,"title":"Surface depth (mm)","labelExpr":"datum.value+''","grid":true,"minExtent":12,"maxExtent":12,"labelOverlap":false}},
       "color":{"field":"s","type":"nominal","scale":{"domain":["B","A","F","N","D","K"],"range":["#77ac30","#0072bd","#edb120","#f080f0","#ff0000","#000000"]},
        "legend":{"title":null,"orient":"bottom-right","offset":2,"padding":2,"fillColor":"#ffffff","strokeColor":"#9a9a9a","labelFontSize":4.6,"labelColor":"#000","symbolType":"stroke","symbolSize":144,"symbolStrokeWidth":0.9,"rowPadding":0.4,"labelOffset":3,
         "labelExpr":"datum.label=='B'?'Before damage':datum.label=='A'?'After damage':datum.label=='F'?'FEM model':datum.label=='N'?'Analytical':datum.label=='D'?'Diameter (exp)':'Dent depth (exp)'",
         "encode":{"symbols":{"update":{"strokeWidth":{"signal":"datum.value=='D'?1.8:0.9"},"strokeDash":{"signal":"datum.value=='K'?[3,2]:[1,0]"}}}}}}
      }},
     {"data":{"name":"c3"},"transform":[{"filter":"datum.s=='D'||datum.s=='K'"}],"mark":{"type":"line"},
      "encoding":{"x":{"field":"x","type":"quantitative"},"y":{"field":"y","type":"quantitative"},
       "color":{"field":"s","type":"nominal","scale":{"domain":["B","A","F","N","D","K"],"range":["#77ac30","#0072bd","#edb120","#f080f0","#ff0000","#000000"]}},
       "strokeDash":{"field":"s","type":"nominal","scale":{"domain":["D","K"],"range":[[1,0],[3,2]]},"legend":null},
       "strokeWidth":{"condition":{"test":"datum.s=='D'","value":1.8},"value":0.9},
       "order":{"value":null}}},
     {"data":{"name":"ann"},"transform":[{"filter":"datum.p==3&&datum.k=='m'"}],"mark":{"type":"text","align":"left","baseline":"middle","fontSize":5,"color":"#262626"},
      "encoding":{"x":{"field":"x","type":"quantitative"},"y":{"field":"y","type":"quantitative"},"text":{"field":"t"}}},
     {"data":{"name":"ann"},"transform":[{"filter":"datum.p==3&&datum.k=='s'"}],"mark":{"type":"text","align":"left","baseline":"middle","fontSize":3.8,"color":"#262626"},
      "encoding":{"x":{"field":"x","type":"quantitative"},"y":{"field":"y","type":"quantitative"},"text":{"field":"t"}}}
    ]},
    {"layer":[
     {"data":{"name":"dia"},"mark":{"type":"line","color":"#c8c8c8","strokeWidth":0.6},
      "encoding":{"x":{"field":"x","type":"quantitative","scale":{"domain":[-24.2,132.8],"nice":false,"zero":false},"axis":null},"y":{"field":"y","type":"quantitative","scale":{"domain":[-21.3,80.4],"nice":false,"zero":false},"axis":null},"detail":{"field":"d","type":"nominal"},"order":{"value":null}}},
     {"data":{"name":"blob"},"mark":{"type":"line","interpolate":"linear-closed","color":"#1a1a1a","strokeWidth":0.7},
      "encoding":{"x":{"field":"x","type":"quantitative"},"y":{"field":"y","type":"quantitative"},"order":{"value":null}}},
     {"data":{"name":"dia"},"transform":[{"filter":"datum.d=='d3'"}],"mark":{"type":"line","color":"#ff0000","strokeWidth":1.2},
      "encoding":{"x":{"field":"x","type":"quantitative"},"y":{"field":"y","type":"quantitative"},"order":{"value":null}}},
     {"data":{"name":"dlab"},"mark":{"type":"text","fontSize":5,"align":"center","baseline":"middle"},
      "encoding":{"x":{"field":"x","type":"quantitative"},"y":{"field":"y","type":"quantitative"},"text":{"field":"t"},"color":{"condition":{"test":"datum.d=='d3'","value":"#ff0000"},"value":"#000000"}}}
    ]}
   ],
   "resolve":{"scale":{"x":"independent","y":"independent"}}},
  {"width":157,"height":122,"title":{"text":"ESA_042_3 cross-section through diameter d₄","offset":5},
   "layer":[
    {"layer":[
     {"data":{"name":"c4"},"transform":[{"filter":"datum.s!='D'&&datum.s!='K'"}],"mark":{"type":"line","interpolate":"monotone","strokeWidth":0.9},
      "encoding":{
       "x":{"field":"x","type":"quantitative","scale":{"domain":[-25,25],"nice":false,"zero":false},"axis":{"values":[-25,-20,-15,-10,-5,0,5,10,15,20,25],"tickCount":50,"title":"Location (mm)","labelExpr":"datum.value+''","grid":true,"labelPadding":5,"titlePadding":3,"labelOverlap":false}},
       "y":{"field":"y","type":"quantitative","scale":{"domain":[-1.5,0.1],"nice":false,"zero":false},"axis":{"values":[0,-0.5,-1,-1.5],"tickCount":50,"title":"Surface depth (mm)","labelExpr":"datum.value+''","grid":true,"minExtent":12,"maxExtent":12,"labelOverlap":false}},
       "color":{"field":"s","type":"nominal","scale":{"domain":["B","A","F","N","D","K"],"range":["#77ac30","#0072bd","#edb120","#f080f0","#ff0000","#000000"]},
        "legend":{"title":null,"orient":"bottom-right","offset":2,"padding":2,"fillColor":"#ffffff","strokeColor":"#9a9a9a","labelFontSize":4.6,"labelColor":"#000","symbolType":"stroke","symbolSize":144,"symbolStrokeWidth":0.9,"rowPadding":0.4,"labelOffset":3,
         "labelExpr":"datum.label=='B'?'Before damage':datum.label=='A'?'After damage':datum.label=='F'?'FEM model':datum.label=='N'?'Analytical':datum.label=='D'?'Diameter (exp)':'Dent depth (exp)'",
         "encode":{"symbols":{"update":{"strokeWidth":{"signal":"datum.value=='D'?1.8:0.9"},"strokeDash":{"signal":"datum.value=='K'?[3,2]:[1,0]"}}}}}}
      }},
     {"data":{"name":"c4"},"transform":[{"filter":"datum.s=='D'||datum.s=='K'"}],"mark":{"type":"line"},
      "encoding":{"x":{"field":"x","type":"quantitative"},"y":{"field":"y","type":"quantitative"},
       "color":{"field":"s","type":"nominal","scale":{"domain":["B","A","F","N","D","K"],"range":["#77ac30","#0072bd","#edb120","#f080f0","#ff0000","#000000"]}},
       "strokeDash":{"field":"s","type":"nominal","scale":{"domain":["D","K"],"range":[[1,0],[3,2]]},"legend":null},
       "strokeWidth":{"condition":{"test":"datum.s=='D'","value":1.8},"value":0.9},
       "order":{"value":null}}},
     {"data":{"name":"ann"},"transform":[{"filter":"datum.p==4&&datum.k=='m'"}],"mark":{"type":"text","align":"left","baseline":"middle","fontSize":5,"color":"#262626"},
      "encoding":{"x":{"field":"x","type":"quantitative"},"y":{"field":"y","type":"quantitative"},"text":{"field":"t"}}},
     {"data":{"name":"ann"},"transform":[{"filter":"datum.p==4&&datum.k=='s'"}],"mark":{"type":"text","align":"left","baseline":"middle","fontSize":3.8,"color":"#262626"},
      "encoding":{"x":{"field":"x","type":"quantitative"},"y":{"field":"y","type":"quantitative"},"text":{"field":"t"}}}
    ]},
    {"layer":[
     {"data":{"name":"dia"},"mark":{"type":"line","color":"#c8c8c8","strokeWidth":0.6},
      "encoding":{"x":{"field":"x","type":"quantitative","scale":{"domain":[-24.2,132.8],"nice":false,"zero":false},"axis":null},"y":{"field":"y","type":"quantitative","scale":{"domain":[-21.3,80.4],"nice":false,"zero":false},"axis":null},"detail":{"field":"d","type":"nominal"},"order":{"value":null}}},
     {"data":{"name":"blob"},"mark":{"type":"line","interpolate":"linear-closed","color":"#1a1a1a","strokeWidth":0.7},
      "encoding":{"x":{"field":"x","type":"quantitative"},"y":{"field":"y","type":"quantitative"},"order":{"value":null}}},
     {"data":{"name":"dia"},"transform":[{"filter":"datum.d=='d4'"}],"mark":{"type":"line","color":"#ff0000","strokeWidth":1.2},
      "encoding":{"x":{"field":"x","type":"quantitative"},"y":{"field":"y","type":"quantitative"},"order":{"value":null}}},
     {"data":{"name":"dlab"},"mark":{"type":"text","fontSize":5,"align":"center","baseline":"middle"},
      "encoding":{"x":{"field":"x","type":"quantitative"},"y":{"field":"y","type":"quantitative"},"text":{"field":"t"},"color":{"condition":{"test":"datum.d=='d4'","value":"#ff0000"},"value":"#000000"}}}
    ]}
   ],
   "resolve":{"scale":{"x":"independent","y":"independent"}}}
 ],"spacing":8,"resolve":{"scale":{"color":"independent","strokeDash":"independent"}}}
],
"spacing":14,
"resolve":{"scale":{"color":"independent","size":"independent","strokeDash":"independent"}}
}
